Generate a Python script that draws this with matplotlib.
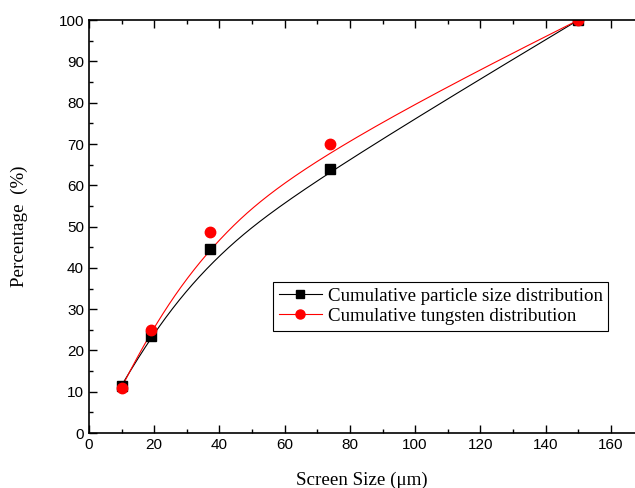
import matplotlib.pyplot as plt
import numpy as np
from matplotlib.ticker import MultipleLocator

# screen sizes (um) and cumulative percentages
size = [10, 19, 37, 74, 150]
particle = [11.5, 23.5, 44.5, 64, 100]
tungsten = [11, 25, 48.8, 70, 100]


def bspline(xs, ys, n=300):
    # clamped cubic B-spline with the points as control points (like Origin's B-spline line)
    p = np.column_stack([xs, ys]).astype(float)
    k = 3
    m = len(p)
    inner = np.linspace(0, 1, m - k + 1)
    knots = np.concatenate([[0] * k, inner, [1] * k])
    t = np.linspace(0, 1, n)
    t[-1] = 1 - 1e-9
    N = np.zeros((n, len(knots) - 1))
    for i in range(len(knots) - 1):
        N[:, i] = (t >= knots[i]) & (t < knots[i + 1])
    for d in range(1, k + 1):
        Nn = np.zeros((n, len(knots) - 1 - d))
        for i in range(len(knots) - 1 - d):
            a = knots[i + d] - knots[i]
            b = knots[i + d + 1] - knots[i + 1]
            left = (t - knots[i]) / a * N[:, i] if a > 0 else 0
            right = (knots[i + d + 1] - t) / b * N[:, i + 1] if b > 0 else 0
            Nn[:, i] = left + right
        N = Nn
    c = N @ p
    return c[:, 0], c[:, 1]


fig = plt.figure(figsize=(6.35, 4.88), dpi=100)
ax = fig.add_axes([0.140, 0.1127, 0.86, 0.846])

bx, by = bspline(size, particle)
rx, ry = bspline(size, tungsten)
ax.plot(bx, by, color='black', lw=0.8)
ax.plot(rx, ry, color='red', lw=0.8)
ax.plot(size, particle, 's', color='black', ms=7)
ax.plot(size, tungsten, 'o', color='red', ms=7.5)

# legend handles
h1, = ax.plot([], [], '-s', color='black', lw=0.8, ms=6)
h2, = ax.plot([], [], '-o', color='red', lw=0.8, ms=6.5)
leg = ax.legend([h1, h2], ['Cumulative particle size distribution', 'Cumulative tungsten distribution'],
                loc='upper left', bbox_to_anchor=(0.337, 0.366), borderaxespad=0,
                prop={'family': 'Liberation Serif', 'size': 13.6}, fancybox=False,
                edgecolor='black', handlelength=2.3, handletextpad=0.3,
                borderpad=0.3, labelspacing=0.15, framealpha=1)
leg.get_frame().set_linewidth(0.8)

ax.set_xlim(0, 167.4)
ax.set_ylim(0, 100)
ax.xaxis.set_major_locator(MultipleLocator(20))
ax.xaxis.set_minor_locator(MultipleLocator(10))
ax.yaxis.set_major_locator(MultipleLocator(10))
ax.yaxis.set_minor_locator(MultipleLocator(5))
ax.tick_params(which='both', direction='in', top=True, right=False, width=1)
ax.tick_params(which='major', length=6, labelsize=11)
ax.tick_params(which='minor', length=3)
for lab in ax.get_xticklabels() + ax.get_yticklabels():
    lab.set_family('Liberation Sans')
ax.spines['right'].set_visible(False)
for s in ['left', 'bottom', 'top']:
    ax.spines[s].set_linewidth(1.2)

ax.set_xlabel('Screen Size (\u03bcm)', family='Liberation Serif', fontsize=13.7, labelpad=14)
ax.set_ylabel('Percentage  (%)', family='Liberation Serif', fontsize=13.7, labelpad=22)

fig.savefig('out.png', dpi=100)
